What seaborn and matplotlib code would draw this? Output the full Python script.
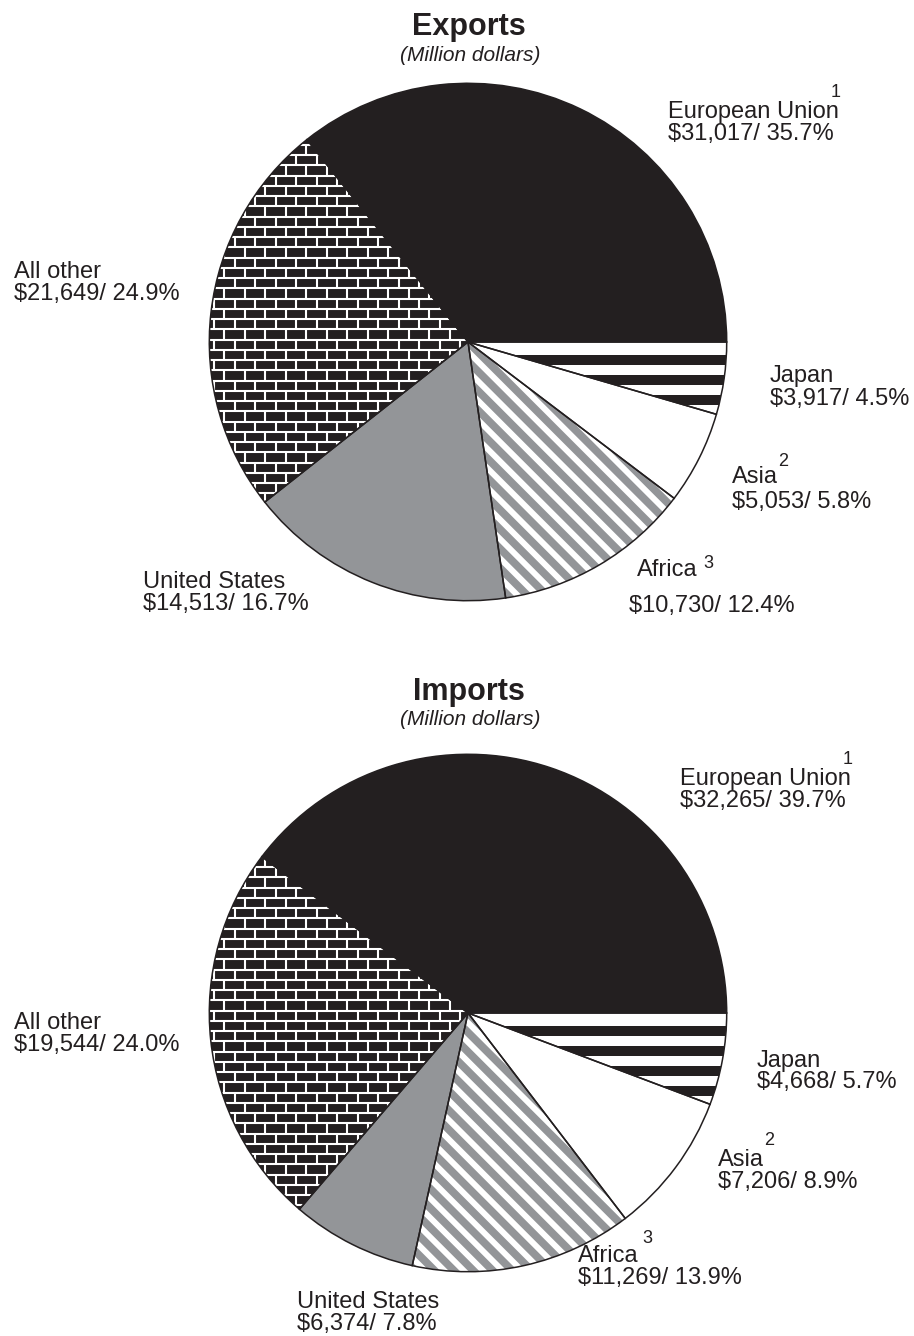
import numpy as np
import matplotlib
matplotlib.use("Agg")
import matplotlib.pyplot as plt
import seaborn as sns
from matplotlib.collections import LineCollection, PatchCollection
from matplotlib.patches import Rectangle

# ---- data -------------------------------------------------------------
# slice order runs counter-clockwise from 3 o'clock
regions = ["European Union", "All other", "United States", "Africa", "Asia", "Japan"]
footnotes = ["1", "", "", "3", "2", ""]
exports = [31017, 21649, 14513, 10730, 5053, 3917]
imports = [32265, 19544, 6374, 11269, 7206, 4668]
panel_titles = ["Exports", "Imports"]
unit_note = "(Million dollars)"

# ---- styling ----------------------------------------------------------
sns.set_theme(style="white")
plt.rcParams["font.family"] = ["Liberation Sans", "DejaVu Sans"]

INK = "#231f20"
GREY = "#939598"
W, H = 914, 1336
fig = plt.figure(figsize=(W / 100, H / 100), dpi=100)
fig.patch.set_facecolor("white")

R_PX = 260  # pie radius in pixels


def px_text(x, y, s, **kw):
    kw.setdefault("va", "baseline")
    kw.setdefault("ha", "left")
    kw.setdefault("color", INK)
    fig.text(x / W, 1 - y / H, s, **kw)


def brick(ax, wedge):
    h, w = 10.3 / R_PX, 20.6 / R_PX
    segs = []
    ys = np.arange(-1.1, 1.1, h)
    for k, y in enumerate(ys):
        segs.append([(-1.1, y), (1.1, y)])
        off = (k % 2) * w / 2
        for x in np.arange(-1.1 + off, 1.1, w):
            segs.append([(x, y), (x, y + h)])
    lc = LineCollection(segs, colors="white", linewidths=1.5, zorder=2)
    ax.add_collection(lc)
    lc.set_clip_path(wedge)


def diagonal(ax, wedge):
    step = 19.5 / R_PX
    segs = [[(-1.2, c + 1.2), (1.2, c - 1.2)] for c in np.arange(-2.4, 2.4, step)]
    lc = LineCollection(segs, colors=GREY, linewidths=5.6, capstyle="butt", zorder=2)
    ax.add_collection(lc)
    lc.set_clip_path(wedge)


def hstripes(ax, wedge):
    period, band = 20 / R_PX, 10 / R_PX
    rects = [Rectangle((-1.1, y - band), 2.2, band)
             for y in np.arange(-13 / R_PX, -1.05, -period)]
    pc = PatchCollection(rects, facecolor=INK, edgecolor="none", zorder=2)
    ax.add_collection(pc)
    pc.set_clip_path(wedge)


faces = [INK, INK, GREY, "white", "white", "white"]
textures = {1: brick, 3: diagonal, 5: hstripes}


def draw_pie(cy, values):
    ax = fig.add_axes([(468 - R_PX) / W, 1 - (cy + R_PX) / H, 2 * R_PX / W, 2 * R_PX / H])
    wedges, _ = ax.pie(values, colors=faces, startangle=0, counterclock=True, radius=1,
                       wedgeprops=dict(linewidth=0, edgecolor="none"))
    for i, fn in textures.items():
        fn(ax, wedges[i])
    # slice outlines on top of the textures
    ax.pie(values, startangle=0, counterclock=True, radius=1,
           wedgeprops=dict(fill=False, edgecolor=INK, linewidth=1.1, zorder=3))
    ax.set_xlim(-1.005, 1.005)
    ax.set_ylim(-1.005, 1.005)
    ax.set_aspect("equal")
    ax.axis("off")


def labels(values, pos):
    total = sum(values)
    for i, name in enumerate(regions):
        x, y1, y2, x2, sup = pos[name]
        pct = 100 * values[i] / total
        px_text(x, y1, name, fontsize=17)
        px_text(x2, y2, f"${values[i]:,}/ {pct:.1f}%", fontsize=17)
        if footnotes[i]:
            px_text(sup[0], sup[1], footnotes[i], fontsize=13)


# ---- exports ----------------------------------------------------------
px_text(469, 35, panel_titles[0], ha="center", fontsize=22, fontweight="bold")
px_text(470, 61, unit_note, ha="center", fontsize=15, style="italic")
draw_pie(342, exports)
labels(exports, {
    "European Union": (668, 118, 140, 668, (831, 97)),
    "Japan": (770, 382, 405, 770, None),
    "Asia": (732, 483, 508, 732, (778, 466)),
    "Africa": (637, 576, 612, 629, (703, 568)),
    "United States": (143, 588, 610, 143, None),
    "All other": (14, 278, 300, 14, None),
})

# ---- imports ----------------------------------------------------------
px_text(469, 700, panel_titles[1], ha="center", fontsize=22, fontweight="bold")
px_text(470, 725, unit_note, ha="center", fontsize=15, style="italic")
draw_pie(1013, imports)
labels(imports, {
    "European Union": (680, 785, 807, 680, (843, 764)),
    "Japan": (757, 1067, 1088, 757, None),
    "Asia": (718, 1166, 1188, 718, (764, 1145)),
    "Africa": (578, 1262, 1284, 578, (642, 1243)),
    "United States": (297, 1308, 1330, 297, None),
    "All other": (14, 1029, 1051, 14, None),
})

fig.savefig("out.png", dpi=100, facecolor="white")
